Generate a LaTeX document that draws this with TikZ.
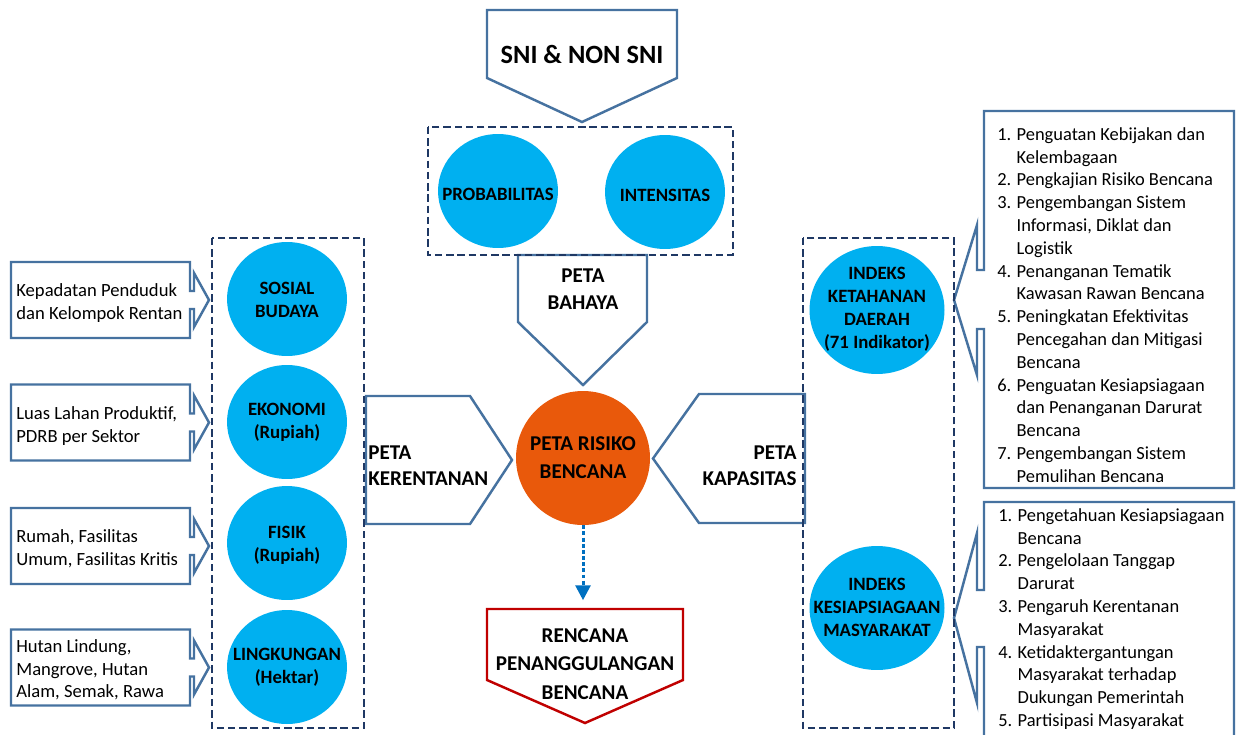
\documentclass[tikz,border=0pt]{standalone}
\usepackage{fontspec}
\setmainfont{Carlito}
\usetikzlibrary{arrows.meta,shapes.geometric}

\definecolor{shapeblue}{RGB}{70,114,160}
\definecolor{framenavy}{RGB}{31,56,100}
\definecolor{ballcyan}{RGB}{0,176,240}
\definecolor{riskorange}{RGB}{233,89,11}
\definecolor{planred}{RGB}{192,0,0}
\definecolor{flowblue}{RGB}{0,112,192}

\newcommand\fsz[2]{\fontsize{#1pt}{#2pt}\selectfont}
\newlength\numw
\setlength\numw{11pt}

% rectangle callout pointing right, centred on y = #1
\newcommand\leftcallout[1]{%
  \draw[shapeline] (11,{#1-38}) -- (190,{#1-38}) -- (190,{#1-9}) -- (194,{#1-9})
    -- (194,{#1-27}) -- (209,#1) -- (194,{#1+27}) -- (194,{#1+9}) -- (190,{#1+9})
    -- (190,{#1+38}) -- (11,{#1+38}) -- cycle;}

\begin{document}
\begin{tikzpicture}[x=0.02cm, y=-0.02cm,
  shapeline/.style={draw=shapeblue, line width=1.4pt, fill=white, line join=miter},
  planline/.style={draw=planred, line width=1.4pt, fill=white, line join=miter},
  frame/.style={draw=framenavy, line width=1.5pt, dash pattern=on 4.2pt off 2.2pt},
  ball/.style={ellipse, fill=ballcyan, inner sep=0pt},
  balltext/.style={font=\bfseries\fsz{10.7}{13.1}, align=center, inner sep=0pt},
  maptitle/.style={font=\bfseries\fsz{12}{15.2}, inner sep=0pt},
  sidetext/.style={font=\fsz{10.6}{12.9}, align=left, inner sep=0pt, anchor=west},
  listtext/.style={font=\fsz{10.5}{12.98}, inner sep=0pt, anchor=north west},
  flow/.style={draw=flowblue, line width=1.7pt, dash pattern=on 2.2pt off 1.3pt,
    -{Triangle[width=8.5pt,length=8.5pt]}, shorten >=5pt}]

\clip (0,0) rectangle (1240,734);
\fill[white] (0,0) rectangle (1240,734);

% standards arrow at the top
\draw[shapeline] (487,10) -- (677,10) -- (677,78) -- (582,122) -- (487,78) -- cycle;
\node[font=\bfseries\fsz{15}{18}, inner sep=0pt] (sni) at (582,54) {SNI \& NON SNI};

% hazard map
\draw[shapeline] (518,255) -- (647,255) -- (647,322) -- (583,385) -- (518,322) -- cycle;
\node[maptitle, align=center] (bahaya) at (583,289.5) {PETA\\BAHAYA};
\draw[frame] (428,127) rectangle (733,255);
\node[ball, minimum width=2.4cm, minimum height=2.28cm] (probbg) at (498,191) {};
\node[balltext] (prob) at (498,194) {PROBABILITAS};
\node[ball, minimum width=2.4cm, minimum height=2.28cm] (intbg) at (665,192) {};
\node[balltext] (int) at (665,195) {INTENSITAS};

% vulnerability and capacity maps
\draw[shapeline] (366,396) -- (470,396) -- (512,460) -- (470,524) -- (366,524) -- cycle;
\node[maptitle, align=left, anchor=west, font=\bfseries\fsz{12}{14.8}] (kerentanan) at (368,465.5) {PETA\\KERENTANAN};
\draw[shapeline] (805,394) -- (699,394) -- (653,458.5) -- (699,523) -- (805,523) -- cycle;
\node[maptitle, align=right, anchor=east, font=\bfseries\fsz{12}{14.8}] (kapasitas) at (797,465.5) {PETA\\KAPASITAS};

% risk map
\node[circle, fill=riskorange, minimum size=2.68cm, inner sep=0pt, align=center,
  font=\bfseries\fsz{12}{15.8}] (risk) at (583,458) {PETA RISIKO\\BENCANA};

% disaster management plan
\draw[planline] (487,609) -- (683,609) -- (683,680) -- (585,723) -- (487,680) -- cycle;
\node[font=\bfseries\fsz{12}{16.1}, align=center, inner sep=0pt] (rencana) at (585,664) {RENCANA\\PENANGGULANGAN\\BENCANA};
\coordinate (planhead) at (583,609);
\draw[flow] (risk.south) -- (risk.south |- planhead);

% vulnerability components
\leftcallout{300}
\leftcallout{422.5}
\leftcallout{546}
\leftcallout{667.5}
\node[sidetext] (ksosial) at (16,303) {Kepadatan Penduduk\\dan Kelompok Rentan};
\node[sidetext] (kekonomi) at (16,426) {Luas Lahan Produktif,\\PDRB per Sektor};
\node[sidetext] (kfisik) at (16,549) {Rumah, Fasilitas\\Umum, Fasilitas Kritis};
\node[sidetext] (klingkungan) at (16,670) {Hutan Lindung,\\Mangrove, Hutan\\Alam, Semak, Rawa};

\draw[frame] (212,238) rectangle (364,728);
\node[ball, minimum width=2.4cm, minimum height=2.28cm] (sosialbg) at (287,299) {};
\node[balltext] (sosial) at (287,300) {SOSIAL\\BUDAYA};
\node[ball, minimum width=2.4cm, minimum height=2.28cm] (ekonomibg) at (287,422) {};
\node[balltext] (ekonomi) at (287,422.5) {EKONOMI\\(Rupiah)};
\node[ball, minimum width=2.4cm, minimum height=2.28cm] (fisikbg) at (287,543) {};
\node[balltext] (fisik) at (287,545) {FISIK\\(Rupiah)};
\node[ball, minimum width=2.4cm, minimum height=2.28cm] (lingkbg) at (287,667) {};
\node[balltext] (lingk) at (287,667) {LINGKUNGAN\\(Hektar)};

% capacity components
\draw[shapeline] (984,111) -- (1234,111) -- (1234,488) -- (984,488) -- (984,329) -- (977,329)
  -- (977,375) -- (954,300) -- (977,225) -- (977,270) -- (984,270) -- cycle;
\draw[shapeline] (984,502) -- (1234,502) -- (1234,760) -- (984,760) -- (984,647) -- (977,647)
  -- (977,703) -- (954,618) -- (977,533) -- (977,590) -- (984,590) -- cycle;

\node[listtext] (ikdlist) at (997,124) {\begin{tabular}{@{}p{\numw}@{}l@{}}
1. & Penguatan Kebijakan dan\\
   & Kelembagaan\\
2. & Pengkajian Risiko Bencana\\
3. & Pengembangan Sistem\\
   & Informasi, Diklat dan\\
   & Logistik\\
4. & Penanganan Tematik\\
   & Kawasan Rawan Bencana\\
5. & Peningkatan Efektivitas\\
   & Pencegahan dan Mitigasi\\
   & Bencana\\
6. & Penguatan Kesiapsiagaan\\
   & dan Penanganan Darurat\\
   & Bencana\\
7. & Pengembangan Sistem\\
   & Pemulihan Bencana
\end{tabular}};

\node[listtext] (ikmlist) at (998,505) {\begin{tabular}{@{}p{\numw}@{}l@{}}
1. & Pengetahuan Kesiapsiagaan\\
   & Bencana\\
2. & Pengelolaan Tanggap\\
   & Darurat\\
3. & Pengaruh Kerentanan\\
   & Masyarakat\\
4. & Ketidaktergantungan\\
   & Masyarakat terhadap\\
   & Dukungan Pemerintah\\
5. & Partisipasi Masyarakat
\end{tabular}};

\draw[frame] (803,238) rectangle (954,728);
\node[ball, minimum width=2.7cm, minimum height=2.56cm] (ikdbg) at (877,310) {};
\node[balltext] (ikd) at (877,309.5) {INDEKS\\KETAHANAN\\DAERAH\\(71 Indikator)};
\node[ball, minimum width=2.7cm, minimum height=2.48cm] (ikmbg) at (877,608) {};
\node[balltext] (ikm) at (877,607.5) {INDEKS\\KESIAPSIAGAAN\\MASYARAKAT};

\end{tikzpicture}
\end{document}
